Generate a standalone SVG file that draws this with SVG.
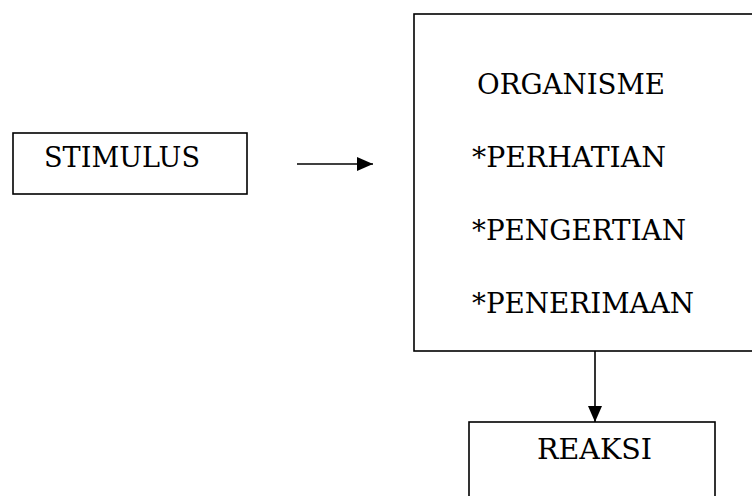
<svg xmlns="http://www.w3.org/2000/svg" width="752" height="496" viewBox="0 0 752 496">
<style>
.box{fill:#fff;stroke:#000;stroke-width:1.6}
.t{font-family:'DejaVu Serif',serif;font-size:28px;fill:#000}
.c{stroke:#000;stroke-width:1.6;fill:none}
</style>
<defs>
<marker id="ah" markerWidth="16" markerHeight="16" refX="16" refY="8" orient="auto" markerUnits="userSpaceOnUse">
<path d="M0,1 L16,8 L0,15 Z" fill="#000"/>
</marker>
</defs>
<rect width="752" height="496" fill="#fff"/>
<g id="stimulus">
<rect class="box" x="13" y="133" width="234" height="61"/>
<text class="t" x="44" y="167" textLength="156" lengthAdjust="spacingAndGlyphs">STIMULUS</text>
</g>
<g id="organisme">
<rect class="box" x="414" y="14" width="360" height="337"/>
<text class="t" x="477" y="94" textLength="188" lengthAdjust="spacingAndGlyphs">ORGANISME</text>
<text class="t" x="472" y="167" textLength="194" lengthAdjust="spacingAndGlyphs">*PERHATIAN</text>
<text class="t" x="472" y="240" textLength="214" lengthAdjust="spacingAndGlyphs">*PENGERTIAN</text>
<text class="t" x="472" y="313" textLength="222" lengthAdjust="spacingAndGlyphs">*PENERIMAAN</text>
</g>
<g id="reaksi">
<rect class="box" x="469" y="422" width="246" height="100"/>
<text class="t" x="537" y="459" textLength="115" lengthAdjust="spacingAndGlyphs">REAKSI</text>
</g>
<g id="connectors">
<line class="c" x1="297" y1="164" x2="373" y2="164" marker-end="url(#ah)"/>
<line class="c" x1="595" y1="351" x2="595" y2="422" marker-end="url(#ah)"/>
</g>
</svg>
